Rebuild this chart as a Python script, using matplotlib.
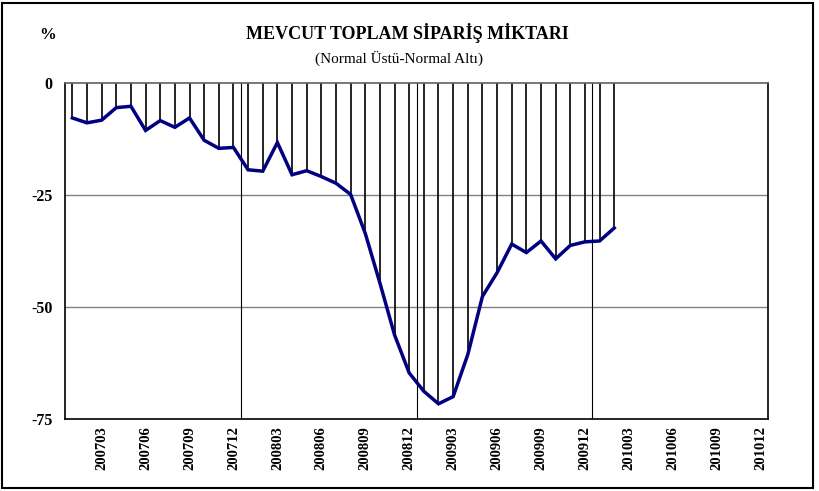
import numpy as np
import matplotlib
matplotlib.use('Agg')
import matplotlib.pyplot as plt
from matplotlib.patches import Rectangle

plt.rcParams['font.family'] = ['Liberation Serif', 'DejaVu Serif']

# monthly categories 200701 .. 201012
months = ['%d%02d' % (y, m) for y in range(2007, 2011) for m in range(1, 13)]
tick_labels = [m for m in months if int(m[-2:]) % 3 == 0]

# balance (above normal - below normal), 200701 .. 201002
values = [-7.7, -8.8, -8.2, -5.4, -5.1, -10.5, -8.3, -9.8, -7.7, -12.7,
          -14.5, -14.3, -19.3, -19.6, -13.2, -20.4, -19.5, -20.8, -22.3, -24.8,
          -33.5, -44.6, -56.2, -64.7, -68.8, -71.6, -70.0, -60.6, -47.6, -42.3,
          -35.9, -37.8, -35.2, -39.2, -36.2, -35.4, -35.2, -32.3]
yticks = [0, -25, -50, -75]

x = np.arange(len(values))

fig = plt.figure(figsize=(8.2, 4.91), dpi=100)
ax = fig.add_axes([0.0793, 0.1466, 0.8573, 0.6834])

# drop lines from zero to each point
ax.vlines(x, 0, values, colors='black', linewidth=1.2, zorder=2)
ax.plot(x, values, color='#000080', linewidth=2.5, zorder=3,
        solid_joinstyle='miter')

ax.set_xlim(-0.5, len(months) - 0.5)
ax.set_ylim(-75, 0)

for yv in yticks[1:-1]:
    ax.axhline(yv, color='#808080', linewidth=1.0, zorder=1)
for xv in [11.5, 23.5, 35.5]:
    ax.axvline(xv, color='black', linewidth=0.8, zorder=1)

ax.set_yticks(yticks)
ax.set_yticklabels([str(v) for v in yticks], fontweight='bold', fontsize=11.5)
tpos = [months.index(t) for t in tick_labels]
ax.set_xticks(tpos)
ax.set_xticklabels(tick_labels, rotation=90, fontweight='bold', fontsize=10.5,
                   va='top', ha='center')
ax.tick_params(axis='y', length=0, pad=9)
ax.tick_params(axis='x', length=0, pad=5)

for s in ['left', 'bottom', 'right']:
    ax.spines[s].set_color('black')
    ax.spines[s].set_linewidth(1.2)
ax.spines['top'].set_color('#606060')
ax.spines['top'].set_linewidth(1.2)

fig.text(0.497, 0.933, 'MEVCUT TOPLAM SİPARİŞ MİKTARI', ha='center', va='center',
         fontsize=13, fontweight='bold')
fig.text(0.487, 0.882, '(Normal Üstü-Normal Altı)', ha='center', va='center',
         fontsize=11)
fig.text(0.058, 0.928, '%', ha='center', va='center', fontsize=12,
         fontweight='bold')

fig.patches.append(Rectangle((0.003, 0.006), 0.988, 0.988, transform=fig.transFigure,
                             fill=False, edgecolor='black', linewidth=1.5))

fig.savefig('out.png', dpi=100)
